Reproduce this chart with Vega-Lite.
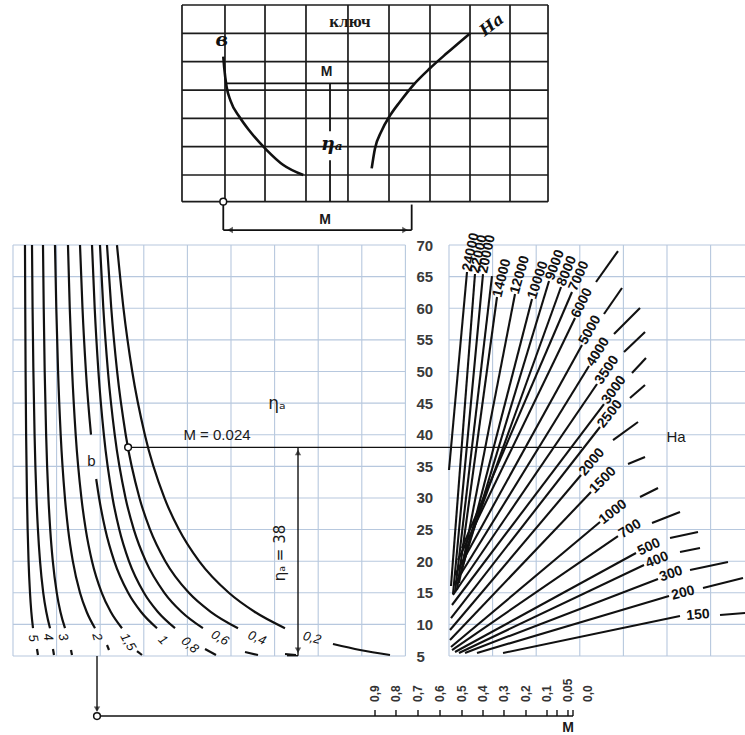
{
"$schema": "https://vega.github.io/schema/vega-lite/v6.json",
"width": 745, "height": 735,
"autosize": {"type": "none"},
"padding": 0,
"background": "white",
"config": {"view": {"stroke": null}},
"datasets": {
"grid": [
{"u":0,"u2":9,"e":5,"e2":5},{"u":0,"u2":9,"e":10,"e2":10},{"u":0,"u2":9,"e":15,"e2":15},{"u":0,"u2":9,"e":20,"e2":20},{"u":0,"u2":9,"e":25,"e2":25},{"u":0,"u2":9,"e":30,"e2":30},{"u":0,"u2":9,"e":35,"e2":35},{"u":0,"u2":9,"e":40,"e2":40},{"u":0,"u2":9,"e":45,"e2":45},{"u":0,"u2":9,"e":50,"e2":50},{"u":0,"u2":9,"e":55,"e2":55},{"u":0,"u2":9,"e":60,"e2":60},{"u":0,"u2":9,"e":65,"e2":65},{"u":0,"u2":9,"e":70,"e2":70},
{"u":10,"u2":16.8,"e":5,"e2":5},{"u":10,"u2":16.8,"e":10,"e2":10},{"u":10,"u2":16.8,"e":15,"e2":15},{"u":10,"u2":16.8,"e":20,"e2":20},{"u":10,"u2":16.8,"e":25,"e2":25},{"u":10,"u2":16.8,"e":30,"e2":30},{"u":10,"u2":16.8,"e":35,"e2":35},{"u":10,"u2":16.8,"e":40,"e2":40},{"u":10,"u2":16.8,"e":45,"e2":45},{"u":10,"u2":16.8,"e":50,"e2":50},{"u":10,"u2":16.8,"e":55,"e2":55},{"u":10,"u2":16.8,"e":60,"e2":60},{"u":10,"u2":16.8,"e":65,"e2":65},{"u":10,"u2":16.8,"e":70,"e2":70},
{"u":0,"u2":0,"e":5,"e2":70},{"u":1,"u2":1,"e":5,"e2":70},{"u":2,"u2":2,"e":5,"e2":70},{"u":3,"u2":3,"e":5,"e2":70},{"u":4,"u2":4,"e":5,"e2":70},{"u":5,"u2":5,"e":5,"e2":70},{"u":6,"u2":6,"e":5,"e2":70},{"u":7,"u2":7,"e":5,"e2":70},{"u":8,"u2":8,"e":5,"e2":70},{"u":9,"u2":9,"e":5,"e2":70},
{"u":10,"u2":10,"e":5,"e2":70},{"u":11,"u2":11,"e":5,"e2":70},{"u":12,"u2":12,"e":5,"e2":70},{"u":13,"u2":13,"e":5,"e2":70},{"u":14,"u2":14,"e":5,"e2":70},{"u":15,"u2":15,"e":5,"e2":70},{"u":16,"u2":16,"e":5,"e2":70}
],
"curves": [
{"s":"5","u":0.275,"e":70},{"s":"5","u":0.281,"e":60},{"s":"5","u":0.289,"e":50},{"s":"5","u":0.301,"e":40},{"s":"5","u":0.321,"e":30},{"s":"5","u":0.336,"e":25},{"s":"5","u":0.357,"e":20},{"s":"5","u":0.390,"e":15},{"s":"5","u":0.420,"e":12},{"s":"5","u":0.459,"e":9.4},
{"s":"4","u":0.436,"e":70},{"s":"4","u":0.449,"e":60},{"s":"4","u":0.468,"e":50},{"s":"4","u":0.495,"e":40},{"s":"4","u":0.538,"e":30},{"s":"4","u":0.572,"e":25},{"s":"4","u":0.620,"e":20},{"s":"4","u":0.694,"e":15},{"s":"4","u":0.763,"e":12},{"s":"4","u":0.849,"e":9.4},
{"s":"3","u":0.688,"e":70},{"s":"3","u":0.705,"e":60},{"s":"3","u":0.727,"e":50},{"s":"3","u":0.760,"e":40},{"s":"3","u":0.813,"e":30},{"s":"3","u":0.854,"e":25},{"s":"3","u":0.913,"e":20},{"s":"3","u":1.004,"e":15},{"s":"3","u":1.087,"e":12},{"s":"3","u":1.193,"e":9.4},
{"s":"2","u":0.963,"e":70},{"s":"2","u":0.993,"e":60},{"s":"2","u":1.034,"e":50},{"s":"2","u":1.094,"e":40},{"s":"2","u":1.191,"e":30},{"s":"2","u":1.265,"e":25},{"s":"2","u":1.372,"e":20},{"s":"2","u":1.537,"e":15},{"s":"2","u":1.689,"e":12},{"s":"2","u":1.881,"e":9.4},
{"s":"1.5","u":1.261,"e":70},{"s":"1.5","u":1.302,"e":60},{"s":"1.5","u":1.357,"e":50},{"s":"1.5","u":1.438,"e":40},{"s":"1.5","u":1.569,"e":30},{"s":"1.5","u":1.669,"e":25},{"s":"1.5","u":1.812,"e":20},{"s":"1.5","u":2.036,"e":15},{"s":"1.5","u":2.241,"e":12},{"s":"1.5","u":2.500,"e":9.4},
{"s":"1a","u":1.537,"e":70},{"s":"1a","u":1.594,"e":60},{"s":"1a","u":1.673,"e":50},{"s":"1a","u":1.789,"e":40},
{"s":"1b","u":1.908,"e":33},{"s":"1b","u":1.975,"e":30},{"s":"1b","u":2.117,"e":25},{"s":"1b","u":2.322,"e":20},{"s":"1b","u":2.641,"e":15},{"s":"1b","u":2.934,"e":12},{"s":"1b","u":3.303,"e":9.4},
{"s":"0.8","u":1.812,"e":70},{"s":"0.8","u":1.874,"e":60},{"s":"0.8","u":1.959,"e":50},{"s":"0.8","u":2.084,"e":40},{"s":"0.8","u":2.284,"e":30},{"s":"0.8","u":2.438,"e":25},{"s":"0.8","u":2.659,"e":20},{"s":"0.8","u":3.003,"e":15},{"s":"0.8","u":3.319,"e":12},{"s":"0.8","u":3.716,"e":9.4},
{"s":"0.6","u":1.995,"e":70},{"s":"0.6","u":2.072,"e":60},{"s":"0.6","u":2.178,"e":50},{"s":"0.6","u":2.333,"e":40},{"s":"0.6","u":2.581,"e":30},{"s":"0.6","u":2.772,"e":25},{"s":"0.6","u":3.046,"e":20},{"s":"0.6","u":3.472,"e":15},{"s":"0.6","u":3.863,"e":12},{"s":"0.6","u":4.356,"e":9.4},
{"s":"0.4","u":2.156,"e":70},{"s":"0.4","u":2.254,"e":60},{"s":"0.4","u":2.388,"e":50},{"s":"0.4","u":2.585,"e":40},{"s":"0.4","u":2.901,"e":30},{"s":"0.4","u":3.144,"e":25},{"s":"0.4","u":3.493,"e":20},{"s":"0.4","u":4.034,"e":15},{"s":"0.4","u":4.534,"e":12},{"s":"0.4","u":5.161,"e":9.4},
{"s":"0.2","u":2.385,"e":70},{"s":"0.2","u":2.534,"e":60},{"s":"0.2","u":2.735,"e":50},{"s":"0.2","u":3.024,"e":40},{"s":"0.2","u":3.473,"e":30},{"s":"0.2","u":3.807,"e":25},{"s":"0.2","u":4.268,"e":20},{"s":"0.2","u":4.950,"e":15},{"s":"0.2","u":5.541,"e":12},{"s":"0.2","u":6.238,"e":9.4},
{"s":"t5","u":0.550,"e":6.11},{"s":"t5","u":0.573,"e":5.16},
{"s":"t4","u":0.917,"e":6.11},{"s":"t4","u":0.940,"e":5.16},
{"s":"t3","u":1.330,"e":5.95},{"s":"t3","u":1.353,"e":5.16},
{"s":"t2","u":2.156,"e":6.74},{"s":"t2","u":2.202,"e":5.95},
{"s":"t15","u":2.844,"e":5.79},{"s":"t15","u":2.959,"e":5.16},
{"s":"t08","u":4.404,"e":6.11},{"s":"t08","u":4.656,"e":5.16},
{"s":"t06","u":5.321,"e":5.63},{"s":"t06","u":5.619,"e":5.16},
{"s":"t04","u":6.239,"e":5.32},{"s":"t04","u":6.491,"e":5.16},
{"s":"t02","u":7.339,"e":6.90},{"s":"t02","u":7.959,"e":5.95},{"s":"t02","u":8.647,"e":5.16}
],
"kcurves": [
{"s":"kb","u":4.823,"e":99.78},{"s":"kb","u":4.842,"e":98.2},{"s":"kb","u":4.900,"e":95.0},{"s":"kb","u":4.990,"e":92.8},{"s":"kb","u":5.200,"e":90.2},{"s":"kb","u":5.420,"e":88.1},{"s":"kb","u":5.819,"e":85.02},{"s":"kb","u":6.200,"e":82.65},{"s":"kb","u":6.658,"e":81.07},
{"s":"kh","u":8.227,"e":82.13},{"s":"kh","u":8.300,"e":85.2},{"s":"kh","u":8.450,"e":88.0},{"s":"kh","u":8.650,"e":90.5},{"s":"kh","u":8.876,"e":92.66},{"s":"kh","u":9.181,"e":95.30},{"s":"kh","u":9.564,"e":97.95},{"s":"kh","u":9.947,"e":100.32},{"s":"kh","u":10.482,"e":103.48}
],
"ha": [
{"u":11.239,"e":5.48,"u2":15.298,"e2":11.33},
{"u":10.642,"e":5.48,"u2":15.046,"e2":14.49},
{"u":10.367,"e":5.48,"u2":14.794,"e2":17.18},
{"u":10.229,"e":5.48,"u2":14.473,"e2":19.39},
{"u":10.138,"e":5.63,"u2":14.289,"e2":21.29},
{"u":10.069,"e":5.95,"u2":13.876,"e2":23.98},
{"u":10.046,"e":6.42,"u2":13.463,"e2":26.19},
{"u":10.023,"e":7.53,"u2":13.257,"e2":30.94},
{"u":10.023,"e":9.11,"u2":13.028,"e2":33.63},
{"u":10.046,"e":11.01,"u2":13.463,"e2":41.22},
{"u":10.069,"e":13.07,"u2":13.555,"e2":44.85},
{"u":10.092,"e":14.65,"u2":13.395,"e2":48.02},
{"u":10.115,"e":16.23,"u2":13.211,"e2":50.86},
{"u":10.138,"e":17.81,"u2":13.050,"e2":54.19},
{"u":10.206,"e":20.18,"u2":12.890,"e2":58.46},
{"u":10.298,"e":22.08,"u2":12.821,"e2":62.57},
{"u":10.344,"e":20.81,"u2":12.569,"e2":63.36},
{"u":10.321,"e":19.39,"u2":12.294,"e2":64.31},
{"u":10.275,"e":17.97,"u2":11.904,"e2":61.46},
{"u":10.229,"e":16.55,"u2":11.514,"e2":62.25},
{"u":10.184,"e":15.44,"u2":11.101,"e2":61.78},
{"u":10.138,"e":15.12,"u2":10.986,"e2":65.10},
{"u":10.092,"e":14.81,"u2":10.780,"e2":65.41},
{"u":10.046,"e":16.07,"u2":10.596,"e2":65.41},
{"u":10.000,"e":34.42,"u2":10.413,"e2":65.73},
{"u":16.216,"e":11.48,"u2":16.789,"e2":11.80},
{"u":15.826,"e":15.75,"u2":16.743,"e2":17.34},
{"u":15.528,"e":18.60,"u2":16.399,"e2":19.87},
{"u":15.298,"e":21.45,"u2":15.757,"e2":22.08},
{"u":15.069,"e":23.66,"u2":15.711,"e2":24.61},
{"u":14.656,"e":26.03,"u2":15.298,"e2":27.77},
{"u":14.381,"e":30.15,"u2":14.794,"e2":31.57},
{"u":14.106,"e":35.37,"u2":14.496,"e2":36.47},
{"u":13.762,"e":39.16,"u2":14.335,"e2":42.01},
{"u":14.151,"e":45.80,"u2":14.496,"e2":47.86},
{"u":14.197,"e":49.76,"u2":14.518,"e2":52.13},
{"u":14.014,"e":53.08,"u2":14.496,"e2":56.24},
{"u":13.785,"e":55.92,"u2":14.381,"e2":60.04},
{"u":13.555,"e":59.09,"u2":13.968,"e2":63.20},
{"u":13.372,"e":64.15,"u2":13.876,"e2":69.05}
],
"haLab": [
{"t":"150","u":15.711,"e":11.48,"r":-5},
{"t":"200","u":15.367,"e":14.96,"r":-14},
{"t":"300","u":15.092,"e":17.97,"r":-19},
{"t":"400","u":14.771,"e":20.18,"r":-22},
{"t":"500","u":14.587,"e":22.24,"r":-26},
{"t":"700","u":14.151,"e":25.09,"r":-32},
{"t":"1000","u":13.762,"e":27.77,"r":-38},
{"t":"1500","u":13.532,"e":32.83,"r":-45},
{"t":"2000","u":13.280,"e":35.68,"r":-50},
{"t":"2500","u":13.693,"e":43.27,"r":-52},
{"t":"3000","u":13.785,"e":47.07,"r":-54},
{"t":"3500","u":13.624,"e":50.23,"r":-56},
{"t":"4000","u":13.418,"e":53.08,"r":-58},
{"t":"5000","u":13.234,"e":56.56,"r":-61},
{"t":"6000","u":13.050,"e":60.83,"r":-64},
{"t":"7000","u":12.982,"e":65.10,"r":-66},
{"t":"8000","u":12.706,"e":65.89,"r":-68},
{"t":"9000","u":12.431,"e":66.84,"r":-70},
{"t":"10000","u":12.041,"e":64.46,"r":-72},
{"t":"12000","u":11.628,"e":65.26,"r":-74},
{"t":"14000","u":11.216,"e":64.78,"r":-76},
{"t":"20000","u":10.872,"e":68.58,"r":-78},
{"t":"22000","u":10.688,"e":68.58,"r":-78},
{"t":"24000","u":10.505,"e":68.89,"r":-78}
],
"bLab": [
{"t":"5","u":0.459,"e":7.85,"r":80},
{"t":"4","u":0.803,"e":8.0,"r":80},
{"t":"3","u":1.147,"e":8.0,"r":75},
{"t":"2","u":1.927,"e":8.0,"r":75},
{"t":"1,5","u":2.638,"e":7.21,"r":60},
{"t":"1","u":3.440,"e":7.53,"r":45},
{"t":"0,8","u":4.060,"e":6.74,"r":40},
{"t":"0,6","u":4.748,"e":7.85,"r":30},
{"t":"0,4","u":5.596,"e":7.85,"r":22},
{"t":"0,2","u":6.858,"e":7.85,"r":15}
],
"segs": [
{"u":2.64,"e":38,"u2":13.05,"e2":38},
{"u":6.537,"e":38,"u2":6.537,"e2":5.05},
{"u":6.285,"e":5.05,"u2":6.537,"e2":5.05},
{"u":1.927,"e":5.0,"u2":1.927,"e2":-3.6},
{"u":1.927,"e":-4.49,"u2":12.844,"e2":-4.49},
{"u":8.303,"e":-4.49,"u2":8.303,"e2":-3.54},
{"u":8.784,"e":-4.49,"u2":8.784,"e2":-3.54},
{"u":9.289,"e":-4.49,"u2":9.289,"e2":-3.54},
{"u":9.794,"e":-4.49,"u2":9.794,"e2":-3.54},
{"u":10.298,"e":-4.49,"u2":10.298,"e2":-3.54},
{"u":10.780,"e":-4.49,"u2":10.780,"e2":-3.54},
{"u":11.261,"e":-4.49,"u2":11.261,"e2":-3.54},
{"u":11.766,"e":-4.49,"u2":11.766,"e2":-3.54},
{"u":12.248,"e":-4.49,"u2":12.248,"e2":-3.54},
{"u":12.477,"e":-4.49,"u2":12.477,"e2":-3.54},
{"u":12.729,"e":-4.49,"u2":12.729,"e2":-3.54},
{"u":12.844,"e":-4.49,"u2":12.844,"e2":-3.54}
],
"kgrid": [
{"u":3.876,"u2":3.876,"e":76.85,"e2":107.96},{"u":4.862,"u2":4.862,"e":76.85,"e2":107.96},{"u":5.780,"u2":5.780,"e":76.85,"e2":107.96},{"u":6.720,"u2":6.720,"e":76.85,"e2":107.96},{"u":7.683,"u2":7.683,"e":76.85,"e2":107.96},{"u":8.624,"u2":8.624,"e":76.85,"e2":107.96},{"u":9.564,"u2":9.564,"e":76.85,"e2":107.96},{"u":10.482,"u2":10.482,"e":76.85,"e2":107.96},{"u":11.399,"u2":11.399,"e":76.85,"e2":107.96},{"u":12.271,"u2":12.271,"e":76.85,"e2":107.96},
{"u":3.876,"u2":12.271,"e":107.96,"e2":107.96},{"u":3.876,"u2":12.271,"e":103.48,"e2":103.48},{"u":3.876,"u2":12.271,"e":98.99,"e2":98.99},{"u":3.876,"u2":12.271,"e":94.51,"e2":94.51},{"u":3.876,"u2":12.271,"e":90.04,"e2":90.04},{"u":3.876,"u2":12.271,"e":85.55,"e2":85.55},{"u":3.876,"u2":12.271,"e":81.07,"e2":81.07},{"u":3.876,"u2":12.271,"e":76.85,"e2":76.85}
],
"ksegs": [
{"u":4.90,"e":95.57,"u2":9.22,"e2":95.57},
{"u":7.271,"e":95.57,"u2":7.271,"e2":88.0},
{"u":7.271,"e":83.4,"u2":7.271,"e2":76.85},
{"u":4.823,"e":76.85,"u2":4.823,"e2":72.37},
{"u":4.823,"e":72.37,"u2":9.144,"e2":72.37},
{"u":9.144,"e":76.4,"u2":9.144,"e2":72.37}
],
"arrows": [
{"u":6.537,"e":37.2,"d":"up"},
{"u":6.537,"e":5.9,"d":"down"},
{"u":1.927,"e":-3.4,"d":"down"},
{"u":4.98,"e":72.37,"d":"left"},
{"u":8.99,"e":72.37,"d":"right"}
],
"circles": [
{"u":2.64,"e":38},
{"u":1.927,"e":-4.49},
{"u":4.823,"e":76.85}
],
"mlab": [
{"t":"0,9","u":8.303,"e":-2.27},{"t":"0,8","u":8.784,"e":-2.27},{"t":"0,7","u":9.289,"e":-2.27},{"t":"0,6","u":9.794,"e":-2.27},{"t":"0,5","u":10.298,"e":-2.27},{"t":"0,4","u":10.780,"e":-2.27},{"t":"0,3","u":11.261,"e":-2.27},{"t":"0,2","u":11.766,"e":-2.27},{"t":"0,1","u":12.248,"e":-2.27},{"t":"0,05","u":12.729,"e":-2.27},{"t":"0,0","u":13.188,"e":-2.27}
],
"notes": [
{"t":"M = 0.024","u":4.679,"e":39.95,"g":"ann"},
{"t":"b","u":1.80,"e":35.8,"g":"ann"},
{"t":"Ha","u":15.206,"e":39.64,"g":"ann"},
{"t":"ηₐ","u":6.055,"e":44.85,"g":"eta"},
{"t":"ηₐ = 38","u":6.124,"e":21.29,"g":"eta38"},
{"t":"M","u":12.729,"e":-6.39,"g":"mbold"},
{"t":"M","u":7.195,"e":97.41,"g":"mbold"},
{"t":"M","u":7.156,"e":73.95,"g":"mbold"},
{"t":"ключ","u":7.729,"e":105.27,"g":"ktitle"},
{"t":"в","u":4.786,"e":102.42,"g":"khand"},
{"t":"ηₐ","u":7.31,"e":85.9,"g":"khand"},
{"t":"Ha","u":10.98,"e":104.79,"g":"kHa"}
]
},
"encoding": {
"x": {"field": "u", "type": "quantitative", "scale": {"domain": [-0.298, 16.789], "nice": false, "zero": false}, "axis": null},
"y": {"field": "e", "type": "quantitative", "scale": {"domain": [-7.49, 108.75], "nice": false, "zero": false},
 "axis": {"values": [5,10,15,20,25,30,35,40,45,50,55,60,65,70], "orient": "left", "offset": -416, "labelAlign": "left", "labelPadding": 0, "ticks": false, "tickSize": 0, "domain": false, "grid": false, "title": null, "labelFontSize": 15, "labelFontWeight": "bold", "labelColor": "#3a3a3a", "labelFont": "Liberation Sans"}}
},
"layer": [
{"data": {"name": "grid"}, "mark": {"type": "rule", "stroke": "#b7c8de", "strokeWidth": 1.1}, "encoding": {"x2": {"field": "u2"}, "y2": {"field": "e2"}}},
{"data": {"name": "kgrid"}, "mark": {"type": "rule", "stroke": "#1c1c1c", "strokeWidth": 1.7}, "encoding": {"x2": {"field": "u2"}, "y2": {"field": "e2"}}},
{"data": {"name": "curves"}, "mark": {"type": "line", "stroke": "#111", "strokeWidth": 2.2, "interpolate": "monotone"}, "encoding": {"detail": {"field": "s", "type": "nominal"}}},
{"data": {"name": "kcurves"}, "mark": {"type": "line", "stroke": "#111", "strokeWidth": 2.6, "interpolate": "monotone"}, "encoding": {"detail": {"field": "s", "type": "nominal"}}},
{"data": {"name": "ha"}, "mark": {"type": "rule", "stroke": "#111", "strokeWidth": 2.1}, "encoding": {"x2": {"field": "u2"}, "y2": {"field": "e2"}}},
{"data": {"name": "segs"}, "mark": {"type": "rule", "stroke": "#111", "strokeWidth": 1.4}, "encoding": {"x2": {"field": "u2"}, "y2": {"field": "e2"}}},
{"data": {"name": "ksegs"}, "mark": {"type": "rule", "stroke": "#111", "strokeWidth": 1.8}, "encoding": {"x2": {"field": "u2"}, "y2": {"field": "e2"}}},
{"data": {"name": "arrows"}, "transform": [{"filter": "datum.d == 'up'"}], "mark": {"type": "point", "shape": "triangle-up", "filled": true, "color": "#111", "size": 40}},
{"data": {"name": "arrows"}, "transform": [{"filter": "datum.d == 'down'"}], "mark": {"type": "point", "shape": "triangle-down", "filled": true, "color": "#111", "size": 40}},
{"data": {"name": "arrows"}, "transform": [{"filter": "datum.d == 'left'"}], "mark": {"type": "point", "shape": "triangle-left", "filled": true, "color": "#111", "size": 40}},
{"data": {"name": "arrows"}, "transform": [{"filter": "datum.d == 'right'"}], "mark": {"type": "point", "shape": "triangle-right", "filled": true, "color": "#111", "size": 40}},
{"data": {"name": "circles"}, "mark": {"type": "point", "shape": "circle", "filled": true, "fill": "white", "stroke": "#111", "strokeWidth": 1.5, "size": 45, "opacity": 1}},
{"data": {"name": "haLab"}, "mark": {"type": "text", "font": "Liberation Sans", "fontSize": 14, "fontWeight": "bold", "color": "#111", "align": "center", "baseline": "middle"}, "encoding": {"text": {"field": "t"}, "angle": {"field": "r", "type": "quantitative", "scale": null}}},
{"data": {"name": "bLab"}, "mark": {"type": "text", "font": "Liberation Sans", "fontSize": 13, "fontStyle": "italic", "color": "#111", "align": "center", "baseline": "middle"}, "encoding": {"text": {"field": "t"}, "angle": {"field": "r", "type": "quantitative", "scale": null}}},
{"data": {"name": "mlab"}, "mark": {"type": "text", "font": "Liberation Sans", "fontSize": 12, "fontWeight": "bold", "color": "#333", "align": "left", "baseline": "middle", "angle": -90}, "encoding": {"text": {"field": "t"}}},
{"data": {"name": "notes"}, "transform": [{"filter": "datum.g == 'ann'"}], "mark": {"type": "text", "font": "Liberation Sans", "fontSize": 15, "color": "#1a1a1a", "align": "center", "baseline": "middle"}, "encoding": {"text": {"field": "t"}}},
{"data": {"name": "notes"}, "transform": [{"filter": "datum.g == 'eta'"}], "mark": {"type": "text", "font": "DejaVu Sans", "fontSize": 17, "color": "#1a1a1a", "align": "center", "baseline": "middle"}, "encoding": {"text": {"field": "t"}}},
{"data": {"name": "notes"}, "transform": [{"filter": "datum.g == 'eta38'"}], "mark": {"type": "text", "font": "DejaVu Sans", "fontSize": 15, "color": "#1a1a1a", "align": "center", "baseline": "middle", "angle": -90}, "encoding": {"text": {"field": "t"}}},
{"data": {"name": "notes"}, "transform": [{"filter": "datum.g == 'mbold'"}], "mark": {"type": "text", "font": "Liberation Sans", "fontSize": 14, "fontWeight": "bold", "color": "#1a1a1a", "align": "center", "baseline": "middle"}, "encoding": {"text": {"field": "t"}}},
{"data": {"name": "notes"}, "transform": [{"filter": "datum.g == 'ktitle'"}], "mark": {"type": "text", "font": "Liberation Serif", "fontSize": 17, "fontWeight": "bold", "color": "#1a1a1a", "align": "center", "baseline": "middle"}, "encoding": {"text": {"field": "t"}}},
{"data": {"name": "notes"}, "transform": [{"filter": "datum.g == 'khand'"}], "mark": {"type": "text", "font": "DejaVu Serif", "fontSize": 19, "fontStyle": "italic", "fontWeight": "bold", "color": "#111", "align": "center", "baseline": "middle"}, "encoding": {"text": {"field": "t"}}},
{"data": {"name": "notes"}, "transform": [{"filter": "datum.g == 'kHa'"}], "mark": {"type": "text", "font": "DejaVu Serif", "fontSize": 16, "fontStyle": "italic", "fontWeight": "bold", "color": "#111", "align": "center", "baseline": "middle", "angle": -38}, "encoding": {"text": {"field": "t"}}}
]
}
